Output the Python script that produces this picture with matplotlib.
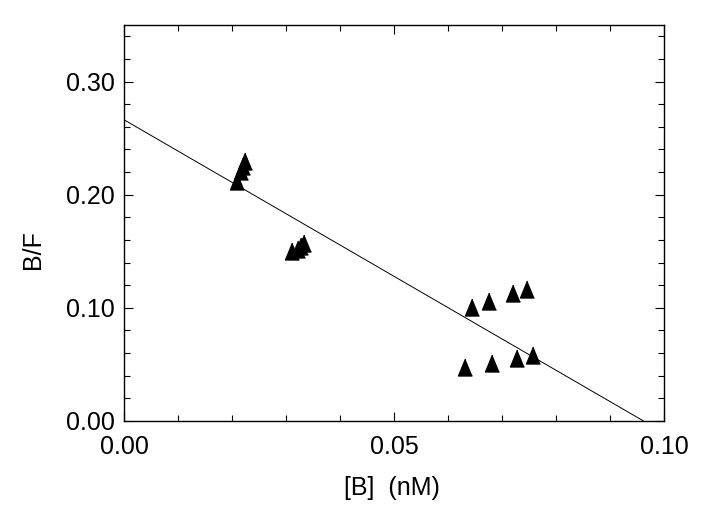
import matplotlib.pyplot as plt
from matplotlib.ticker import MultipleLocator, FormatStrFormatter

plt.rcParams['font.family'] = ['Liberation Sans', 'DejaVu Sans']

# Scatchard data
bound = [0.0208, 0.0216, 0.0220, 0.0223,
         0.0311, 0.0322, 0.0328, 0.0333,
         0.0645, 0.0676, 0.0720, 0.0747,
         0.0632, 0.0681, 0.0727, 0.0758]
ratio = [0.212, 0.221, 0.225, 0.230,
         0.150, 0.152, 0.155, 0.157,
         0.101, 0.106, 0.113, 0.117,
         0.048, 0.051, 0.056, 0.058]

# fitted line: intercept on B/F axis and on [B] axis
fit_x = [0.0, 0.0962]
fit_y = [0.266, 0.0]

fig = plt.figure(figsize=(7.06, 5.28), dpi=100)
ax = fig.add_axes([0.1763, 0.2027, 0.7642, 0.75])

tri = [(0, 1), (-0.82, -1), (0.82, -1)]
ax.plot(bound, ratio, linestyle='none', marker=tri, markersize=12.2,
        color='black', zorder=3)
ax.plot(fit_x, fit_y, color='black', linewidth=0.7)

ax.set_xlim(0, 0.10)
ax.set_ylim(0, 0.35)
ax.xaxis.set_major_locator(MultipleLocator(0.05))
ax.xaxis.set_minor_locator(MultipleLocator(0.01))
ax.yaxis.set_major_locator(MultipleLocator(0.10))
ax.yaxis.set_minor_locator(MultipleLocator(0.02))
ax.xaxis.set_major_formatter(FormatStrFormatter('%.2f'))
ax.yaxis.set_major_formatter(FormatStrFormatter('%.2f'))

ax.tick_params(which='both', direction='in', top=True, right=True,
               width=0.8, labelsize=18)
ax.tick_params(which='major', length=6.5)
ax.tick_params(which='minor', length=4)
ax.tick_params(axis='x', which='major', pad=10)
ax.tick_params(axis='y', which='major', pad=7)
for s in ax.spines.values():
    s.set_linewidth(1.0)

ax.set_xlabel('[B]  (nM)', fontsize=18, va='center')
ax.set_ylabel('B/F', fontsize=18, va='center')
ax.xaxis.set_label_coords(0.495, -0.169)
ax.yaxis.set_label_coords(-0.170, 0.432)

plt.savefig('out.png', dpi=100)
